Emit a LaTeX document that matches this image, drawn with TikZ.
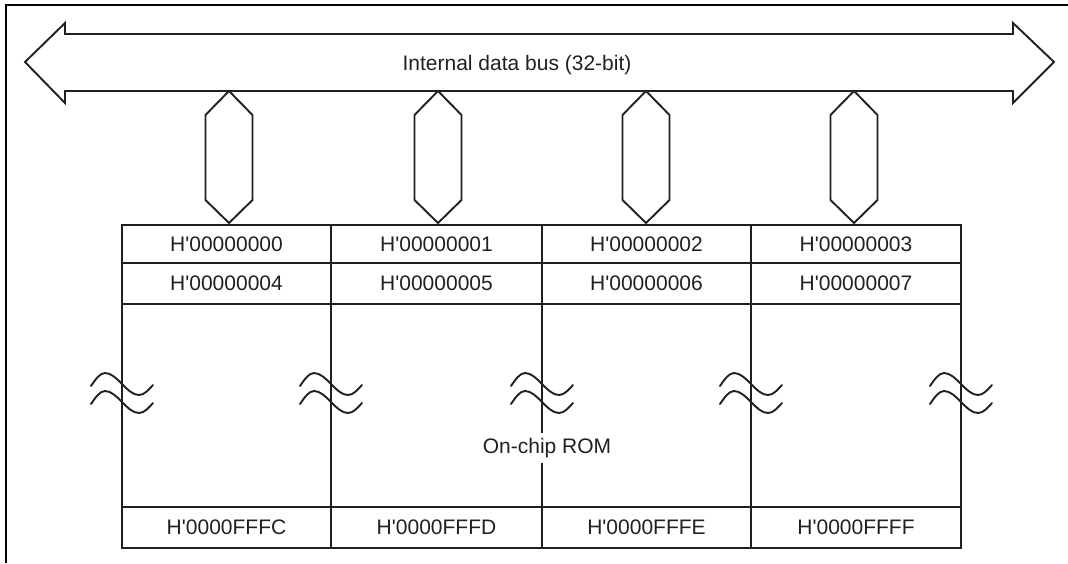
\documentclass[tikz,border=0pt]{standalone}
\usepackage{fontspec}
\newfontfamily\labfont{Liberation Sans}
\definecolor{ink}{HTML}{231F20}
\begin{document}
\begin{tikzpicture}[x=1pt,y=-1pt,
  line/.style={draw=ink,line width=1.9pt,line join=miter},
  frameline/.style={draw=black,line width=2.2pt},
  lbl/.style={text=ink,font=\labfont\fontsize{21}{25}\selectfont,inner sep=0pt},
  cell/.style={lbl,draw=ink,line width=1.9pt,anchor=center},
  wave/.style={draw=ink,line width=1.9pt,line cap=round}]
\useasboundingbox (0,0) rectangle (1068,563);
% frame
\draw[frameline] (1068,5) -- (6,5) -- (6,563);
% internal bus double arrow
\draw[line] (25,62) -- (65,23) -- (65,34) -- (1013,34) -- (1013,23) -- (1054,62)
  -- (1013,103) -- (1013,91) -- (65,91) -- (65,103) -- cycle;
\node[lbl] (bus) at (517,65) {Internal data bus (32-bit)};
% table cells
\foreach \i/\l/\r/\a/\b/\c in {1/122/331/0/4/C,2/331/542/1/5/D,3/542/751/2/6/E,4/751/961/3/7/F}{
  \pgfmathsetmacro{\cx}{(\l+\r)/2}
  \pgfmathsetmacro{\w}{\r-\l}
  \node[cell,minimum width=\w pt,minimum height=38pt] (r\i) at (\cx,244) {H'0000000\a};
  \node[cell,minimum width=\w pt,minimum height=41pt] (s\i) at (\cx,283.5) {H'0000000\b};
  \node[cell,minimum width=\w pt,minimum height=203pt] (m\i) at (\cx,405.5) {};
  \node[cell,minimum width=\w pt,minimum height=41pt] (t\i) at (\cx,527.5) {H'0000FFF\c};
}
% bus links (hexagonal double arrows)
\foreach \c in {229,438,646,854}{
  \draw[line] (\c,91) -- (\c+23.5,115) -- (\c+23.5,200) -- (\c,223)
    -- (\c-23.5,200) -- (\c-23.5,115) -- cycle;
}
% break marks
\foreach \x in {122,331,542,751,961}{
  \foreach \y in {0,18}{
    \draw[wave] (\x-31,386+\y) sin (\x-17,373+\y) cos (\x,384+\y)
      sin (\x+17,395+\y) cos (\x+31,385+\y);
  }
}
\node[lbl,fill=white,inner xsep=1pt,inner ysep=5pt] (rom) at (547,448) {On-chip ROM};
\end{tikzpicture}
\end{document}
